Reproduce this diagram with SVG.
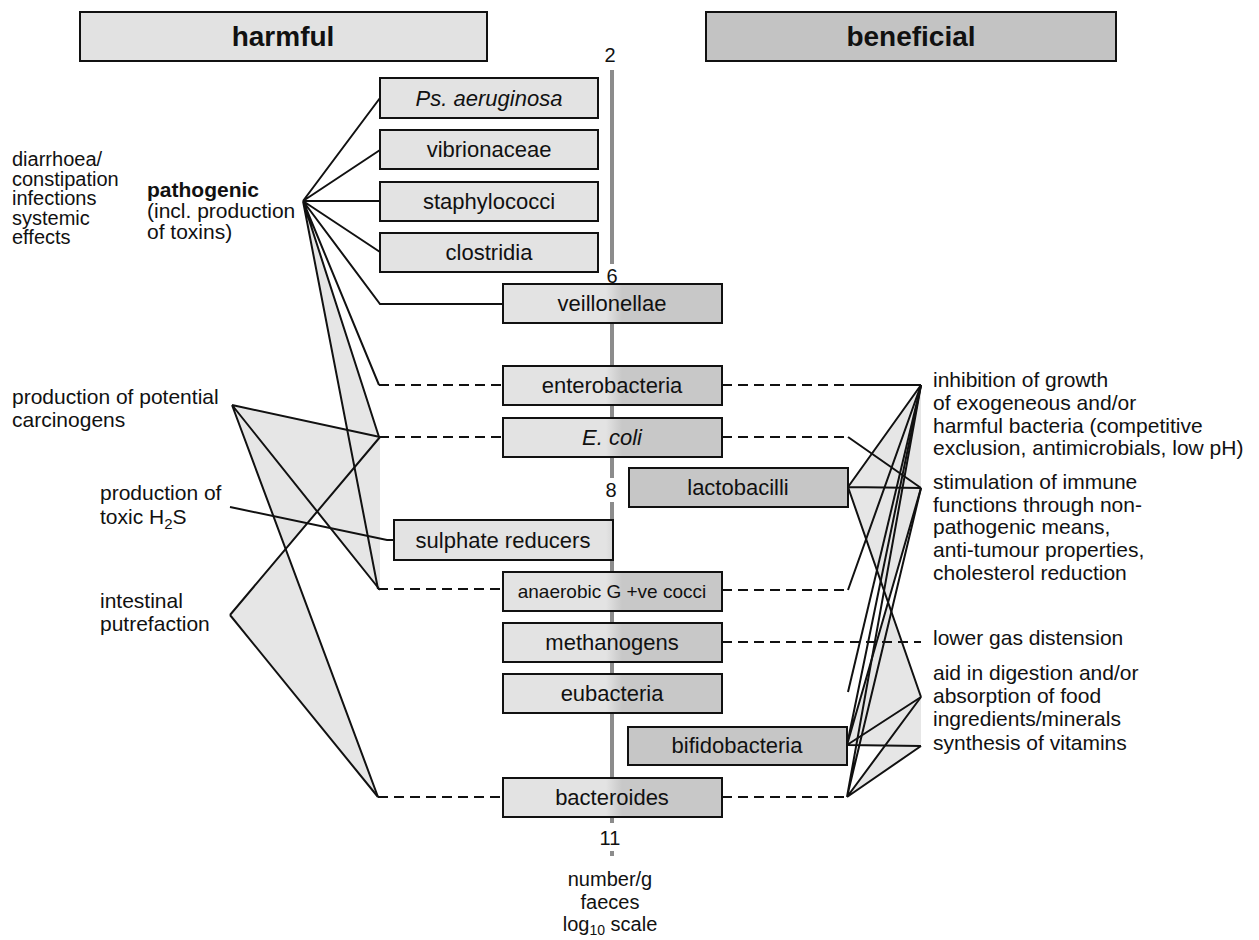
<svg xmlns="http://www.w3.org/2000/svg" width="1259" height="940" viewBox="0 0 1259 940">
<style>
text{font-family:"Liberation Sans",Arial,sans-serif;fill:#111}
.hd{font-size:28px;font-weight:bold;text-anchor:middle}
.bl{font-size:22px;text-anchor:middle}
.sm{font-size:19px}
.side{font-size:21px}
.lf{font-size:20px}
.ax{font-size:20px;text-anchor:middle}
.box{stroke:#111;stroke-width:2}
.lt{fill:#e3e3e3}
.mx{fill:url(#mid)}
.dk{fill:#c6c6c6}
.ln{fill:none;stroke:#111;stroke-width:2}
.ds{fill:none;stroke:#111;stroke-width:2;stroke-dasharray:10 6}
.sh{fill:#e6e6e6;stroke:none}
.axis{stroke:#8c8c8c;stroke-width:4;fill:none}
</style>
<defs>
<linearGradient id="mid" gradientUnits="userSpaceOnUse" x1="606" y1="0" x2="622" y2="0">
<stop offset="0" stop-color="#e3e3e3"/><stop offset="1" stop-color="#c8c8c8"/>
</linearGradient>
</defs>

<g id="axis">
<path class="axis" d="M612,70 V264 M612,323 V478 M612,502 V823 M612,851 V856"/>
<text class="ax" x="610" y="62">2</text>
<text class="ax" x="612" y="283">6</text>
<text class="ax" x="611" y="497">8</text>
<text class="ax" x="610" y="845">11</text>
<text class="ax" x="610" y="886">number/g</text>
<text class="ax" x="610" y="909">faeces</text>
<text class="ax" x="610" y="931">log<tspan font-size="14" dy="4">10</tspan><tspan dy="-4"> scale</tspan></text>
</g>

<g id="shading">
<polygon class="sh" points="303,201 379,437 378,589"/>
<polygon class="sh" points="232,405 380,437 380,590"/>
<polygon class="sh" points="232,405 317,512 286,549"/>
<polygon class="sh" points="230,615 286,549 378,797"/>
<polygon class="sh" points="848,487 921,385 921,488"/>
<polygon class="sh" points="848,487 921,488 888,602"/>
<polygon class="sh" points="888,602 921,697 847,745"/>
<polygon class="sh" points="847,745 921,697 921,746"/>
<polygon class="sh" points="847,797 921,697 921,746"/>
</g>

<g id="connectors">
<path class="ln" d="M303,201 L380,98 M303,201 L380,150 M303,201 L380,201 M303,201 L380,252 M303,201 L380,304 H503 M303,201 L379,385 M303,201 L379,437 M303,201 L378,589"/>
<path class="ds" d="M379,385 H503 M379,437 H503 M378,589 H503 M378,797 H503"/>
<path class="ln" d="M232,405 L380,437 M232,405 L380,590 M232,405 L378,797"/>
<path class="ln" d="M230,507 L387,540 H394"/>
<path class="ln" d="M230,615 L380,437 M230,615 L378,797"/>
<path class="ds" d="M722,385 H850 M722,437 H848 M722,590 H848 M722,642 H921 M722,797 H847"/>
<path class="ln" d="M850,385 H921 M848,437 L921,488 M848,590 L921,385"/>
<path class="ln" d="M848,487 L921,385 M848,487 L921,488 M848,487 L921,697"/>
<path class="ln" d="M847,745 L921,385 M847,745 L921,488 M847,745 L921,697 M847,745 L921,746"/>
<path class="ln" d="M847,797 L921,385 M847,797 L921,488 M847,797 L921,697 M847,797 L921,746"/>
<path class="ln" d="M848,692 L921,385"/>
</g>

<g id="harmful"><rect class="box" x="80" y="12" width="407" height="49" fill="#e2e2e2"/><text class="hd" x="283" y="46">harmful</text></g>
<g id="beneficial"><rect class="box" x="706" y="12" width="410" height="49" fill="#c3c3c3"/><text class="hd" x="911" y="46">beneficial</text></g>

<g id="ps-aeruginosa"><rect class="box lt" x="380" y="78" width="218" height="40"/><text class="bl" x="489" y="106" font-style="italic">Ps. aeruginosa</text></g>
<g id="vibrionaceae"><rect class="box lt" x="380" y="130" width="218" height="39"/><text class="bl" x="489" y="157">vibrionaceae</text></g>
<g id="staphylococci"><rect class="box lt" x="380" y="182" width="218" height="39"/><text class="bl" x="489" y="209">staphylococci</text></g>
<g id="clostridia"><rect class="box lt" x="380" y="233" width="218" height="39"/><text class="bl" x="489" y="260">clostridia</text></g>
<g id="veillonellae"><rect class="box mx" x="503" y="284" width="219" height="39"/><text class="bl" x="612" y="311">veillonellae</text></g>
<g id="enterobacteria"><rect class="box mx" x="503" y="366" width="219" height="39"/><text class="bl" x="612" y="393">enterobacteria</text></g>
<g id="e-coli"><rect class="box mx" x="503" y="418" width="219" height="39"/><text class="bl" x="612" y="445" font-style="italic">E. coli</text></g>
<g id="lactobacilli"><rect class="box dk" x="629" y="468" width="219" height="39"/><text class="bl" x="738" y="495">lactobacilli</text></g>
<g id="sulphate-reducers"><rect class="box mx" x="394" y="520" width="219" height="40"/><text class="bl" x="503" y="548">sulphate reducers</text></g>
<g id="cocci"><rect class="box mx" x="503" y="572" width="219" height="39"/><text class="bl sm" x="612" y="598">anaerobic G +ve cocci</text></g>
<g id="methanogens"><rect class="box mx" x="503" y="623" width="219" height="39"/><text class="bl" x="612" y="650">methanogens</text></g>
<g id="eubacteria"><rect class="box mx" x="503" y="674" width="219" height="39"/><text class="bl" x="612" y="701">eubacteria</text></g>
<g id="bifidobacteria"><rect class="box dk" x="628" y="727" width="219" height="38"/><text class="bl" x="737" y="753">bifidobacteria</text></g>
<g id="bacteroides"><rect class="box mx" x="503" y="778" width="219" height="39"/><text class="bl" x="612" y="805">bacteroides</text></g>

<g id="effects-left">
<text class="lf" x="12" y="166">diarrhoea/</text>
<text class="lf" x="12" y="185.5">constipation</text>
<text class="lf" x="12" y="205">infections</text>
<text class="lf" x="12" y="224.5">systemic</text>
<text class="lf" x="12" y="244">effects</text>
</g>
<g id="pathogenic">
<text class="side" x="147" y="197" font-weight="bold">pathogenic</text>
<text class="side" x="147" y="218">(incl. production</text>
<text class="side" x="147" y="239">of toxins)</text>
</g>
<g id="carcinogens">
<text class="side" x="12" y="404">production of potential</text>
<text class="side" x="12" y="427">carcinogens</text>
</g>
<g id="h2s">
<text class="side" x="100" y="500">production of</text>
<text class="side" x="100" y="524">toxic H<tspan font-size="15" dy="5">2</tspan><tspan dy="-5">S</tspan></text>
</g>
<g id="putrefaction">
<text class="side" x="100" y="608">intestinal</text>
<text class="side" x="100" y="631">putrefaction</text>
</g>

<g id="inhibition">
<text class="side" x="933" y="387">inhibition of growth</text>
<text class="side" x="933" y="410">of exogeneous and/or</text>
<text class="side" x="933" y="433">harmful bacteria (competitive</text>
<text class="side" x="933" y="455">exclusion, antimicrobials, low pH)</text>
</g>
<g id="stimulation">
<text class="side" x="933" y="489">stimulation of immune</text>
<text class="side" x="933" y="512">functions through non-</text>
<text class="side" x="933" y="534">pathogenic means,</text>
<text class="side" x="933" y="557">anti-tumour properties,</text>
<text class="side" x="933" y="580">cholesterol reduction</text>
</g>
<g id="gas"><text class="side" x="933" y="645">lower gas distension</text></g>
<g id="digestion">
<text class="side" x="933" y="680">aid in digestion and/or</text>
<text class="side" x="933" y="703">absorption of food</text>
<text class="side" x="933" y="726">ingredients/minerals</text>
</g>
<g id="vitamins"><text class="side" x="933" y="750">synthesis of vitamins</text></g>
</svg>
